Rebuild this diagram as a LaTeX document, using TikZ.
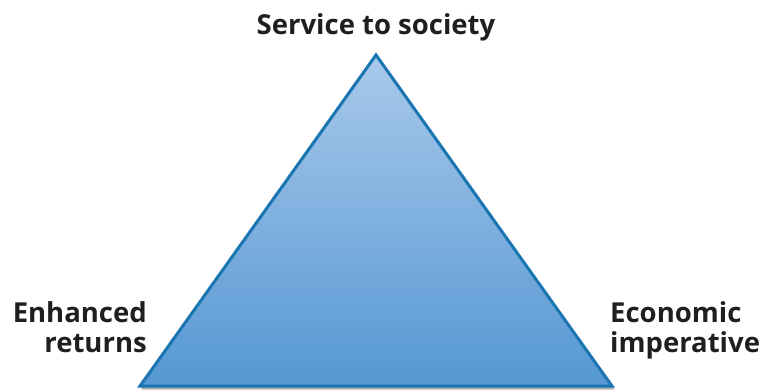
\documentclass[tikz,border=0pt]{standalone}
\usepackage{fontspec}
\setmainfont{Open Sans}
\usepackage{tikz}
\usetikzlibrary{positioning, calc, shadows}

\definecolor{edgeblue}{HTML}{1A75B2}
\definecolor{topblue}{HTML}{A9C9EA}
\definecolor{lowblue}{HTML}{5597D3}

\tikzset{
    label text/.style={font=\bfseries\fontsize{27.5}{30}\selectfont, text=black!88, inner sep=0pt},
    pyramid/.style={draw=edgeblue, line width=3pt, line join=miter, top color=topblue, bottom color=lowblue}
}

\begin{document}
\begin{tikzpicture}[x=1pt, y=-1pt]
        \useasboundingbox (0,0) rectangle (759,390);

        % Corners of the triangle
        \coordinate (apex) at (376,55);
        \coordinate (left) at (140,386);
        \coordinate (right) at (612,386);

        % Shadow under the base
        \fill[black!30] ($(left)+(2,3.5)$) -- ($(right)+(2,3.5)$) -- (right) -- (left) -- cycle;

        % Triangle
        \draw[pyramid] (apex) -- (right) -- (left) -- cycle;

        \node[label text, anchor=base] (service) at (376,35) {Service to society};
        \node[label text, anchor=base east, align=right] (returns) at (147,352) {Enhanced\\returns};
        \node[label text, anchor=base west, align=left] (economic) at (610,352) {Economic\\imperative};

    \end{tikzpicture}
\end{document}
